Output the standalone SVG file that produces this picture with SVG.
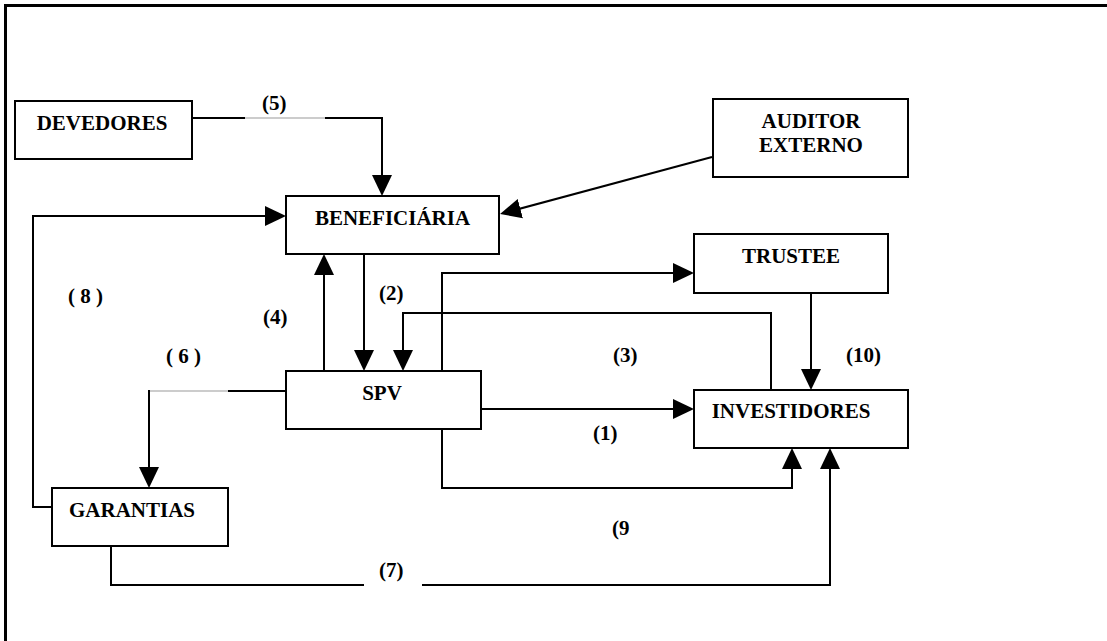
<svg xmlns="http://www.w3.org/2000/svg" width="1107" height="641" viewBox="0 0 1107 641">
<defs>
<style>
.box{fill:#fff;stroke:#000;stroke-width:2}
.t{font-family:"Liberation Serif","Times New Roman",serif;font-weight:bold;font-size:21px;fill:#000}
.c{text-anchor:middle}
.ln{fill:none;stroke:#000;stroke-width:2}
.lg{fill:none;stroke:#999;stroke-width:1.2}
.ar{fill:none;stroke:#000;stroke-width:2;marker-end:url(#ah)}
</style>
<marker id="ah" markerUnits="userSpaceOnUse" markerWidth="22" markerHeight="22" viewBox="0 -11 22 22" refX="17" refY="0" orient="auto">
<path d="M0,-10 L21,0 L0,10 Z" fill="#000"/>
</marker>
</defs>
<rect width="1107" height="641" fill="#fff"/>
<g id="frame">
<path d="M5.5,641 V5.5 H1107" fill="none" stroke="#000" stroke-width="3"/>
</g>
<g id="connectors">
<path class="ln" d="M192,118 H245"/>
<path class="lg" d="M245,118 H325"/>
<path class="ar" d="M325,118 H382 V192"/>
<path class="ar" d="M712,157 L503.9,213"/>
<path class="ar" d="M52,507 H33 V216 H282"/>
<path class="ar" d="M324,371 V258"/>
<path class="ar" d="M364,254 V367"/>
<path class="ar" d="M442,371 V273 H690"/>
<path class="ar" d="M771,390 V313 H403 V367"/>
<path class="ar" d="M481,409 H690"/>
<path class="ar" d="M811,293 V386"/>
<path class="ar" d="M442,429 V488 H792 V452"/>
<path class="ln" d="M111,546 V585 H364"/>
<path class="ar" d="M422,585 H830 V452"/>
<path class="ln" d="M286,391 H228"/>
<path class="lg" d="M228,391 H149"/>
<path class="ar" d="M149,390 V484"/>
</g>
<g id="labels">
<text class="t" x="262" y="110">(5)</text>
<text class="t" x="68" y="303">( 8 )</text>
<text class="t" x="263" y="324">(4)</text>
<text class="t" x="379" y="300">(2)</text>
<text class="t" x="613" y="362">(3)</text>
<text class="t" x="593" y="440">(1)</text>
<text class="t" x="846" y="362">(10)</text>
<text class="t" x="166" y="363">( 6 )</text>
<text class="t" x="612" y="535">(9</text>
<text class="t" x="379" y="577">(7)</text>
</g>
<g id="devedores">
<rect class="box" x="15" y="101" width="177" height="58"/>
<text class="t c" x="102" y="130">DEVEDORES</text>
</g>
<g id="auditor">
<rect class="box" x="713" y="99" width="195" height="78"/>
<text class="t c" x="811" y="128">AUDITOR</text>
<text class="t c" x="811" y="152">EXTERNO</text>
</g>
<g id="beneficiaria">
<rect class="box" x="286" y="196" width="213" height="58"/>
<text class="t c" x="392.5" y="225">BENEFICIÁRIA</text>
</g>
<g id="trustee">
<rect class="box" x="694" y="234" width="194" height="59"/>
<text class="t c" x="791" y="263">TRUSTEE</text>
</g>
<g id="spv">
<rect class="box" x="286" y="371" width="195" height="58"/>
<text class="t c" x="382" y="400">SPV</text>
</g>
<g id="investidores">
<rect class="box" x="694" y="390" width="214" height="58"/>
<text class="t c" x="791" y="418">INVESTIDORES</text>
</g>
<g id="garantias">
<rect class="box" x="52" y="488" width="176" height="58"/>
<text class="t c" x="132" y="517">GARANTIAS</text>
</g>
</svg>
